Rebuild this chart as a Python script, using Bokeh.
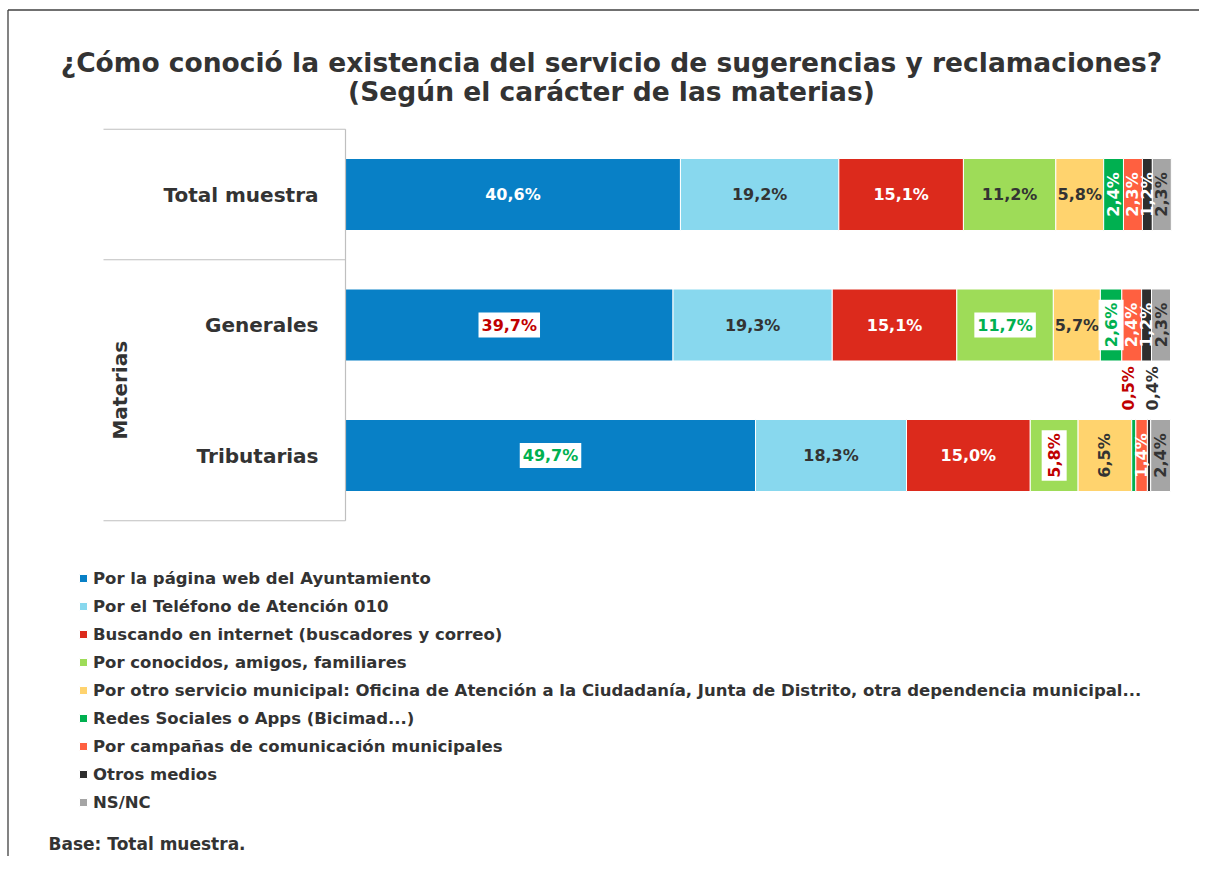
import numpy as np
from bokeh.plotting import figure
from bokeh.models import ColumnDataSource, Legend, LegendItem, Range1d
from bokeh.core.properties import value
from bokeh.embed import file_html
from bokeh.resources import INLINE

# ---------------- data ----------------
title_line1 = "¿Cómo conoció la existencia del servicio de sugerencias y reclamaciones?"
title_line2 = "(Según el carácter de las materias)"
categories = ["Total muestra", "Generales", "Tributarias"]
group_label = "Materias"
base_note = "Base: Total muestra."
series_names = [
    "Por la página web del Ayuntamiento",
    "Por el Teléfono de Atención 010",
    "Buscando en internet (buscadores y correo)",
    "Por conocidos, amigos, familiares",
    "Por otro servicio municipal: Oficina de Atención a la Ciudadanía, Junta de Distrito, otra dependencia municipal...",
    "Redes Sociales o Apps (Bicimad...)",
    "Por campañas de comunicación municipales",
    "Otros medios",
    "NS/NC",
]
web = [40.6, 39.7, 49.7]
telefono = [19.2, 19.3, 18.3]
internet = [15.1, 15.1, 15.0]
conocidos = [11.2, 11.7, 5.8]
otro_servicio = [5.8, 5.7, 6.5]
redes = [2.4, 2.6, 0.5]
campanas = [2.3, 2.4, 1.4]
otros = [1.2, 1.2, 0.4]
nsnc = [2.3, 2.3, 2.4]
series_values = [web, telefono, internet, conocidos, otro_servicio, redes, campanas, otros, nsnc]

# ---------------- styles ----------------
colors = ["#0880C6", "#88D8EE", "#DC2A1C", "#9EDC58", "#FFD36E", "#00B050", "#FF6040", "#2E2E2E", "#A5A5A5"]
DARK = "#333333"
RED = "#C00000"
GREEN = "#00B050"
W_ = "white"
label_colors = [
    [W_, DARK, W_, DARK, DARK, W_, W_, W_, DARK],
    [RED, DARK, W_, GREEN, DARK, GREEN, W_, W_, DARK],
    [GREEN, DARK, W_, RED, DARK, RED, W_, DARK, DARK],
]
label_boxed = [
    [0, 0, 0, 0, 0, 0, 0, 0, 0],
    [1, 0, 0, 1, 0, 1, 0, 0, 0],
    [1, 0, 0, 1, 0, 0, 0, 0, 0],
]
label_rotated = [
    [0, 0, 0, 0, 0, 1, 1, 1, 1],
    [0, 0, 0, 0, 0, 1, 1, 1, 1],
    [0, 0, 0, 1, 1, 1, 1, 1, 1],
]
label_outside = [
    [0] * 9,
    [0] * 9,
    [0, 0, 0, 0, 0, 1, 0, 1, 0],
]
outside_xoff = [
    [0] * 9,
    [0] * 9,
    [0, 0, 0, 0, 0, -5, 0, 3, 0],
]

FONT = "DejaVu Sans"
OFF = 0
W, H = 1199, 856
PX_PER_PCT = 8.25
ROW_PX = 130.5
X0 = -(345 - OFF) / PX_PER_PCT
X1 = X0 + W / PX_PER_PCT
Y1 = (455 - OFF) / ROW_PX
Y0 = Y1 - H / ROW_PX


def dx(px):
    return X0 + (px - OFF) / PX_PER_PCT


def dy(py):
    return Y1 - (py - OFF) / ROW_PX


p = figure(width=W, height=H, output_backend="svg", toolbar_location=None,
           x_range=Range1d(X0, X1), y_range=Range1d(Y0, Y1),
           min_border=0, min_border_left=0, min_border_right=0,
           min_border_top=0, min_border_bottom=0)
p.axis.visible = False
p.grid.visible = False
p.outline_line_color = None
p.background_fill_color = "white"
p.border_fill_color = "white"

n = len(categories)
ypos = [n - 1 - i for i in range(n)]
keys = [f"s{i}" for i in range(len(series_values))]
data = {"y": ypos, "cat": categories}
for k, v in zip(keys, series_values):
    data[k] = v
src = ColumnDataSource(data)
bar_h = 72 / ROW_PX
renderers = p.hbar_stack(keys, y="y", height=bar_h, color=colors, source=src,
                         line_color="white", line_width=1)

# ---------------- segment labels ----------------
vals = np.array(series_values).T  # rows x series
cum = np.cumsum(vals, axis=1)
starts = cum - vals
groups = {"plain_h": [], "plain_r": [], "box_h": [], "box_r": [], "out": []}
for i in range(n):
    for j in range(vals.shape[1]):
        v = vals[i, j]
        txt = f"{v:.1f}%".replace(".", ",")
        xc = starts[i, j] + v / 2
        rec = dict(x=xc, y=ypos[i], text=txt, color=label_colors[i][j])
        if label_outside[i][j]:
            rec["x"] = xc + outside_xoff[i][j] / PX_PER_PCT
            rec["y"] = ypos[i] + bar_h / 2 + 9 / ROW_PX
            groups["out"].append(rec)
        elif label_boxed[i][j]:
            groups["box_r" if label_rotated[i][j] else "box_h"].append(rec)
        else:
            groups["plain_r" if label_rotated[i][j] else "plain_h"].append(rec)


def mk(recs):
    return ColumnDataSource({k: [r[k] for r in recs] for k in ["x", "y", "text", "color"]})


common = dict(x="x", y="y", text="text", text_color="color", text_font=value(FONT),
              text_font_size="16px", text_font_style="bold", text_baseline="middle")
p.text(source=mk(groups["plain_h"]), text_align="center", **common)
p.text(source=mk(groups["plain_r"]), text_align="center", angle=np.pi / 2, **common)
p.text(source=mk(groups["box_h"]), text_align="center", background_fill_color="white",
       padding=3, **common)
p.text(source=mk(groups["box_r"]), text_align="center", angle=np.pi / 2,
       background_fill_color="white", padding=3, **common)
p.text(source=mk(groups["out"]), text_align="left", angle=np.pi / 2, **common)

# ---------------- category axis ----------------
p.text(x=[dx(318)] * n, y=ypos, text=categories, text_align="right", text_baseline="middle",
       text_font=value(FONT), text_font_size="20px", text_font_style="bold", text_color=DARK)
p.text(x=[dx(119)], y=[(ypos[1] + ypos[2]) / 2], text=[group_label], angle=np.pi / 2,
       text_align="center", text_baseline="middle", text_font=value(FONT),
       text_font_size="20px", text_font_style="bold", text_color=DARK)
sep_y = [ypos[0] + 0.5, ypos[0] - 0.5, ypos[-1] - 0.5]
p.segment(x0=[dx(103)] * 3, y0=sep_y, x1=[0] * 3, y1=sep_y, line_color="#BFBFBF", line_width=1.2)
p.segment(x0=[0], y0=[sep_y[-1]], x1=[0], y1=[sep_y[0]], line_color="#BFBFBF", line_width=1.2)

# ---------------- title / note / frame ----------------
p.text(x=[dx(611)], y=[dy(62)], text=[title_line1], text_align="center", text_baseline="middle",
       text_font=value(FONT), text_font_size="26.5px", text_font_style="bold", text_color=DARK)
p.text(x=[dx(611)], y=[dy(91)], text=[title_line2], text_align="center", text_baseline="middle",
       text_font=value(FONT), text_font_size="26.5px", text_font_style="bold", text_color=DARK)
p.text(x=[dx(48)], y=[dy(843)], text=[base_note], text_align="left", text_baseline="middle",
       text_font=value(FONT), text_font_size="17px", text_font_style="bold", text_color=DARK)
p.segment(x0=[dx(7.5), dx(7.5)], y0=[dy(9.5), dy(9.5)], x1=[X1 + 1, dx(7.5)], y1=[dy(9.5), Y0 - 1],
          line_color="#404040", line_width=1.3)

# ---------------- legend ----------------
items = [LegendItem(label=name, renderers=[r]) for name, r in zip(series_names, renderers)]
legend = Legend(items=items, location=(78, 44), orientation="vertical",
                glyph_width=10, glyph_height=10, label_standoff=5, spacing=8,
                label_height=20, padding=0, margin=0, border_line_color=None,
                background_fill_alpha=0, label_text_font=FONT, label_text_font_size="16.5px",
                label_text_font_style="bold", label_text_color=DARK)
p.add_layout(legend)

open("out.html", "w").write(file_html(p, INLINE))
